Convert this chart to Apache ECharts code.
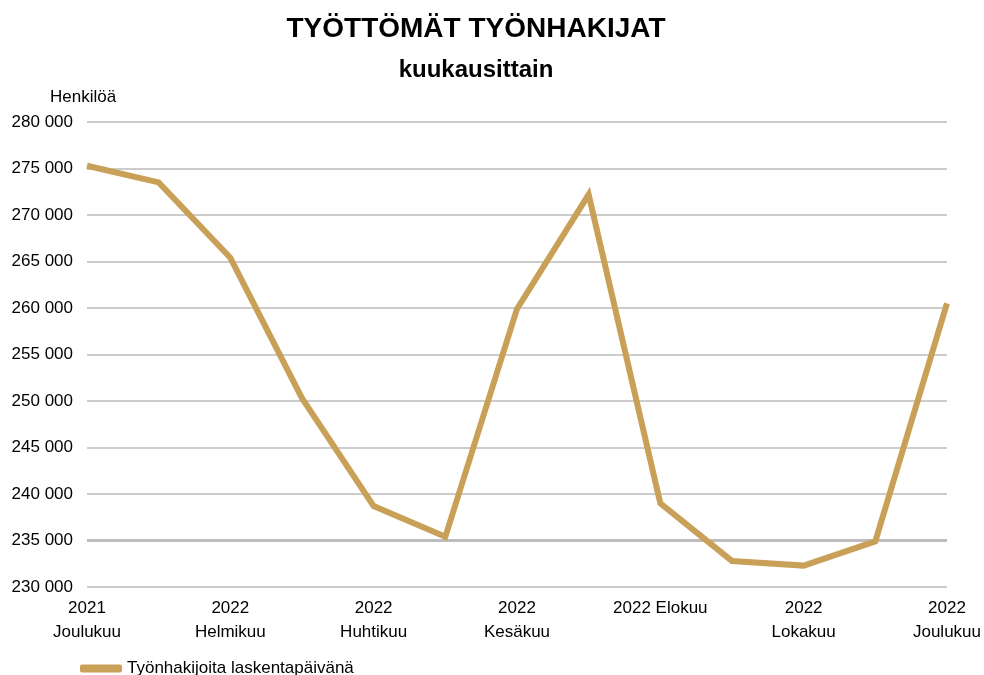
<!DOCTYPE html>
<html>
<head>
<meta charset="utf-8">
<script src="https://cdn.jsdelivr.net/npm/echarts@6/dist/echarts.min.js"></script>
<style>
  html, body { margin: 0; padding: 0; background: #fff; }
  #chart { width: 984px; height: 675px; }
</style>
</head>
<body>
<div id="chart"></div>
<script>
// kuukaudet joulukuu 2021 - joulukuu 2022
var months = ['2021\nJoulukuu', '2022\nTammikuu', '2022\nHelmikuu', '2022\nMaaliskuu', '2022\nHuhtikuu',
  '2022\nToukokuu', '2022\nKesäkuu', '2022\nHeinäkuu', '2022 Elokuu', '2022\nSyyskuu',
  '2022\nLokakuu', '2022\nMarraskuu', '2022\nJoulukuu']
var jobSeekers = [275300, 273500, 265400, 250300, 238700, 235400, 259900, 272200, 239000, 232800, 232300, 234900, 260500]
var seriesName = 'Työnhakijoita laskentapäivänä'

var myChart = echarts.init(document.getElementById('chart'))
var font = 'Liberation Sans, Arial, sans-serif'

myChart.setOption({
  animation: false,
  title: [{
    text: 'TYÖTTÖMÄT TYÖNHAKIJAT',
    left: 471,
    top: 10,
    textAlign: 'center',
    textStyle: { fontFamily: font, fontSize: 28, fontWeight: 'bold', color: '#000' }
  }, {
    text: 'kuukausittain',
    left: 471,
    top: 53,
    textAlign: 'center',
    textStyle: { fontFamily: font, fontSize: 24, fontWeight: 'bold', color: '#000' }
  }],
  legend: {
    left: 75,
    top: 655,
    icon: 'roundRect',
    itemWidth: 42,
    itemHeight: 8,
    itemGap: 10,
    textStyle: { fontFamily: font, fontSize: 17, color: '#000' },
    data: [seriesName]
  },
  grid: {
    left: 87,
    right: 36,
    top: 122,
    bottom: 88
  },
  xAxis: {
    type: 'category',
    boundaryGap: false,
    data: months,
    axisLine: { show: false },
    axisTick: { show: false },
    axisLabel: {
      interval: 1,
      margin: 9,
      fontFamily: font,
      fontSize: 17,
      color: '#000',
      lineHeight: 24,
      verticalAlign: 'top'
    }
  },
  yAxis: {
    type: 'value',
    min: 230000,
    max: 280000,
    interval: 5000,
    name: 'Henkilöä',
    nameLocation: 'end',
    nameGap: 16,
    nameTextStyle: { fontFamily: font, fontSize: 17, color: '#000', align: 'left', padding: [0, 0, 0, -37] },
    axisLine: { show: false },
    axisTick: { show: false },
    axisLabel: {
      margin: 14,
      fontFamily: font,
      fontSize: 17,
      color: '#000',
      formatter: function (v) {
        return String(v).replace(/\B(?=(\d{3})+(?!\d))/g, ' ')
      }
    },
    splitLine: { lineStyle: { color: '#cccccc', width: 2 } }
  },
  series: [{
    name: seriesName,
    type: 'line',
    data: jobSeekers,
    symbol: 'none',
    lineStyle: { color: '#c9a057', width: 6, join: 'miter' },
    itemStyle: { color: '#c9a057' },
    markLine: {
      silent: true,
      symbol: 'none',
      label: { show: false },
      lineStyle: { color: '#bdbdbd', width: 3, type: 'solid' },
      data: [{ yAxis: 235000 }],
      z: 1
    }
  }]
})
</script>
</body>
</html>
